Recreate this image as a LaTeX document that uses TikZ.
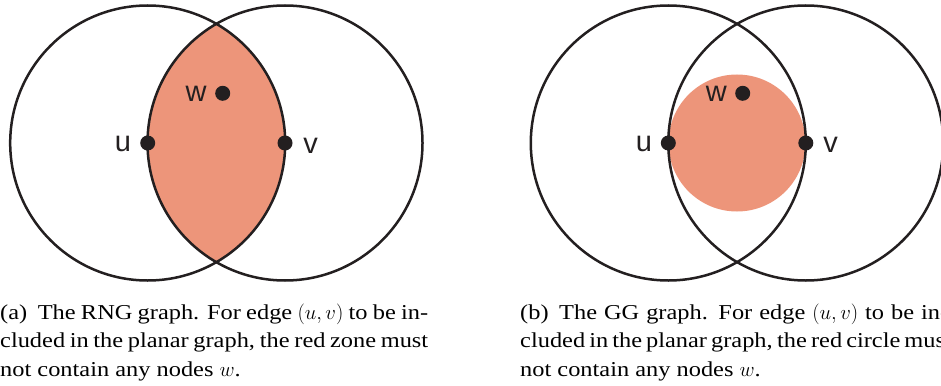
\documentclass[tikz,border=0pt]{standalone}
\usepackage{fontspec}
\setmainfont{Liberation Serif}[FakeStretch=1.15]
\newfontfamily\labelfont{Liberation Sans}
\definecolor{zone}{RGB}{237,149,122}
\definecolor{ink}{RGB}{35,31,32}
\begin{document}
\begin{tikzpicture}[x=1pt,y=-1pt,
  ring/.style={draw=ink, line width=2.5pt},
  dot/.style={circle, fill=ink, minimum size=15pt, inner sep=0pt},
  lbl/.style={font=\labelfont\fontsize{29}{29}\selectfont, text=ink, anchor=base, inner sep=0pt},
  captext/.style={font=\fontsize{21.2}{28.5}\selectfont, anchor=base west, inner sep=0pt}]
\useasboundingbox (0,0) rectangle (941,385);
\clip (0,0) rectangle (941,385);
% ---------- (a) RNG ----------
\coordinate (ua) at (147.7,143);
\coordinate (va) at (285,143);
\begin{scope}
  \clip (ua) circle[radius=137.5pt];
  \fill[zone] (va) circle[radius=137.5pt];
\end{scope}
\draw[ring] (ua) circle[radius=137.5pt];
\draw[ring] (va) circle[radius=137.5pt];
\node[dot] (u1) at (ua) {};
\node[dot] (v1) at (va) {};
\node[dot] (w1) at (222.7,93.3) {};
\node[lbl] (lu1) at (123,151.7) {u};
\node[lbl] (lv1) at (310.7,153) {v};
\node[lbl] (lw1) at (196,101.7) {w};
% ---------- (b) GG ----------
\coordinate (ub) at (668.3,143);
\coordinate (vb) at (805.8,143);
\coordinate (mb) at (737,143);
\fill[zone] (mb) circle[radius=68.5pt];
\draw[ring] (ub) circle[radius=137.5pt];
\draw[ring] (vb) circle[radius=137.5pt];
\node[dot] (u2) at (ub) {};
\node[dot] (v2) at (vb) {};
\node[dot] (w2) at (742.7,93.3) {};
\node[lbl] (lu2) at (644,151.7) {u};
\node[lbl] (lv2) at (830.5,152.7) {v};
\node[lbl] (lw2) at (716.3,101.7) {w};
% ---------- captions ----------
\node[captext] (ca1) at (0,319) {\makebox[428pt][s]{(a)\enspace The RNG graph. For edge $(u,v)$ to be in-}};
\node[captext] (ca2) at (0,347.5) {\makebox[428pt][s]{cluded in the planar graph, the red zone must}};
\node[captext] (ca3) at (0,376) {not contain any nodes $w$.};
\node[captext] (cb1) at (520,319) {\makebox[428pt][s]{(b)\enspace The GG graph.\enspace For edge $(u,v)$ to be in-}};
\node[captext] (cb2) at (520,347.5) {\makebox[428pt][s]{cluded in the planar graph, the red circle must}};
\node[captext] (cb3) at (520,376) {not contain any nodes $w$.};
\end{tikzpicture}
\end{document}
